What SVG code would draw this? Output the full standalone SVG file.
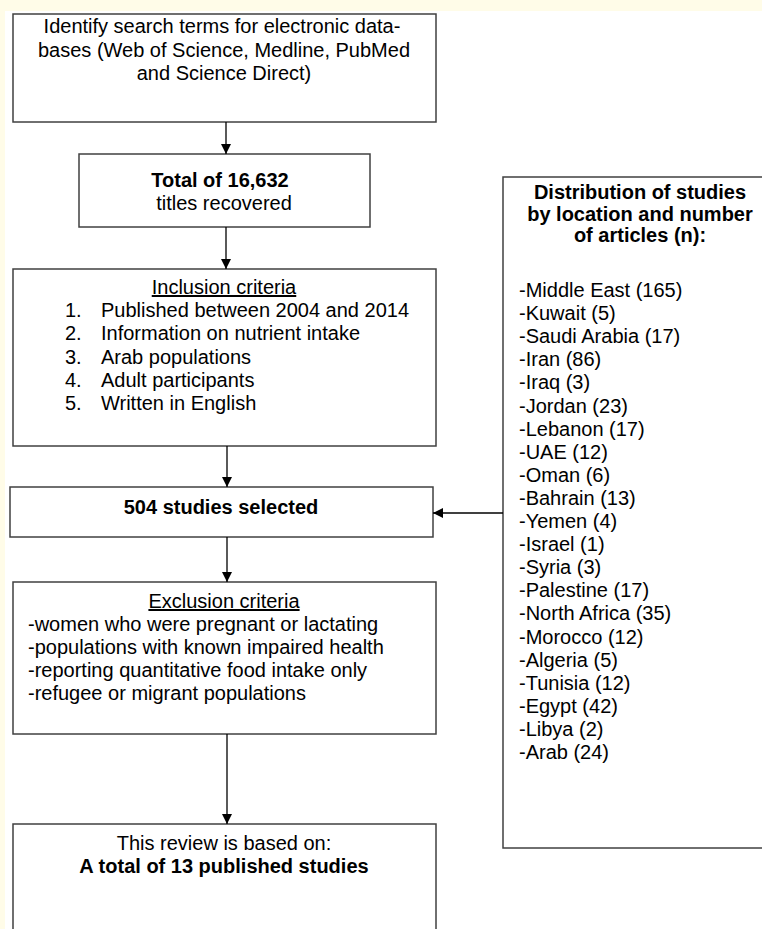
<svg xmlns="http://www.w3.org/2000/svg" width="762" height="929" viewBox="0 0 762 929">
<defs>
<style>
text{font-family:"Liberation Sans",Arial,sans-serif;font-size:20px;fill:#000}
.c{text-anchor:middle}
.b{font-weight:bold}
.u{text-decoration:underline}
.box{fill:#fff;stroke:#404040;stroke-width:1.5}
.con{stroke:#000;stroke-width:1.3;fill:none}
</style>
<marker id="ah" markerWidth="10" markerHeight="10" refX="10" refY="5" orient="auto" markerUnits="userSpaceOnUse" viewBox="0 0 10 10">
<path d="M0,0 L10,5 L0,10 Z" fill="#000"/>
</marker>
</defs>
<rect x="0" y="0" width="762" height="929" fill="#FFFCE8"/>
<rect x="5" y="11" width="757" height="918" fill="#fff"/>

<g id="search">
<rect class="box" x="13" y="14" width="423" height="108"/>
<text class="c" x="222" y="33">Identify search terms for electronic data-</text>
<text class="c" x="224" y="57">bases (Web of Science, Medline, PubMed</text>
<text class="c" x="224" y="80">and Science Direct)</text>
</g>

<g id="total">
<rect class="box" x="79" y="154" width="291" height="73"/>
<text class="c b" x="220" y="187">Total of 16,632</text>
<text class="c" x="224" y="210">titles recovered</text>
</g>

<g id="inclusion">
<rect class="box" x="13" y="269" width="423" height="177"/>
<text class="c u" x="224" y="294">Inclusion criteria</text>
<text x="65" y="317">1.</text><text x="101" y="317">Published between 2004 and 2014</text>
<text x="65" y="340">2.</text><text x="101" y="340">Information on nutrient intake</text>
<text x="65" y="364">3.</text><text x="101" y="364">Arab populations</text>
<text x="65" y="387">4.</text><text x="101" y="387">Adult participants</text>
<text x="65" y="410">5.</text><text x="101" y="410">Written in English</text>
</g>

<g id="selected">
<rect class="box" x="10" y="487" width="423" height="50"/>
<text class="c b" x="221" y="514">504 studies selected</text>
</g>

<g id="exclusion">
<rect class="box" x="13" y="582" width="423" height="152"/>
<text class="c u" x="224" y="608">Exclusion criteria</text>
<text x="28" y="631">-women who were pregnant or lactating</text>
<text x="28" y="654">-populations with known impaired health</text>
<text x="28" y="677">-reporting quantitative food intake only</text>
<text x="28" y="700">-refugee or migrant populations</text>
</g>

<g id="final">
<rect class="box" x="13" y="824" width="423" height="130"/>
<text class="c" x="224" y="850">This review is based on:</text>
<text class="c b" x="224" y="873">A total of 13 published studies</text>
</g>

<g id="distribution">
<rect class="box" x="503" y="177" width="280" height="671"/>
<text class="c b" x="640" y="199">Distribution of studies</text>
<text class="c b" x="640" y="220.5">by location and number</text>
<text class="c b" x="640" y="242">of articles (n):</text>
<text x="519" y="297">-Middle East (165)</text>
<text x="519" y="320.1">-Kuwait (5)</text>
<text x="519" y="343.2">-Saudi Arabia (17)</text>
<text x="519" y="366.3">-Iran (86)</text>
<text x="519" y="389.4">-Iraq (3)</text>
<text x="519" y="412.5">-Jordan (23)</text>
<text x="519" y="435.6">-Lebanon (17)</text>
<text x="519" y="458.7">-UAE (12)</text>
<text x="519" y="481.8">-Oman (6)</text>
<text x="519" y="504.9">-Bahrain (13)</text>
<text x="519" y="528">-Yemen (4)</text>
<text x="519" y="551.1">-Israel (1)</text>
<text x="519" y="574.2">-Syria (3)</text>
<text x="519" y="597.3">-Palestine (17)</text>
<text x="519" y="620.4">-North Africa (35)</text>
<text x="519" y="643.5">-Morocco (12)</text>
<text x="519" y="666.6">-Algeria (5)</text>
<text x="519" y="689.7">-Tunisia (12)</text>
<text x="519" y="712.8">-Egypt (42)</text>
<text x="519" y="735.9">-Libya (2)</text>
<text x="519" y="759">-Arab (24)</text>
</g>

<g id="connectors">
<line class="con" x1="226" y1="122" x2="226" y2="154" marker-end="url(#ah)"/>
<line class="con" x1="226" y1="227" x2="226" y2="269" marker-end="url(#ah)"/>
<line class="con" x1="227" y1="446" x2="227" y2="487" marker-end="url(#ah)"/>
<line class="con" x1="503" y1="513" x2="433" y2="513" marker-end="url(#ah)"/>
<line class="con" x1="227" y1="537" x2="227" y2="582" marker-end="url(#ah)"/>
<line class="con" x1="227" y1="734" x2="227" y2="824" marker-end="url(#ah)"/>
</g>
</svg>
